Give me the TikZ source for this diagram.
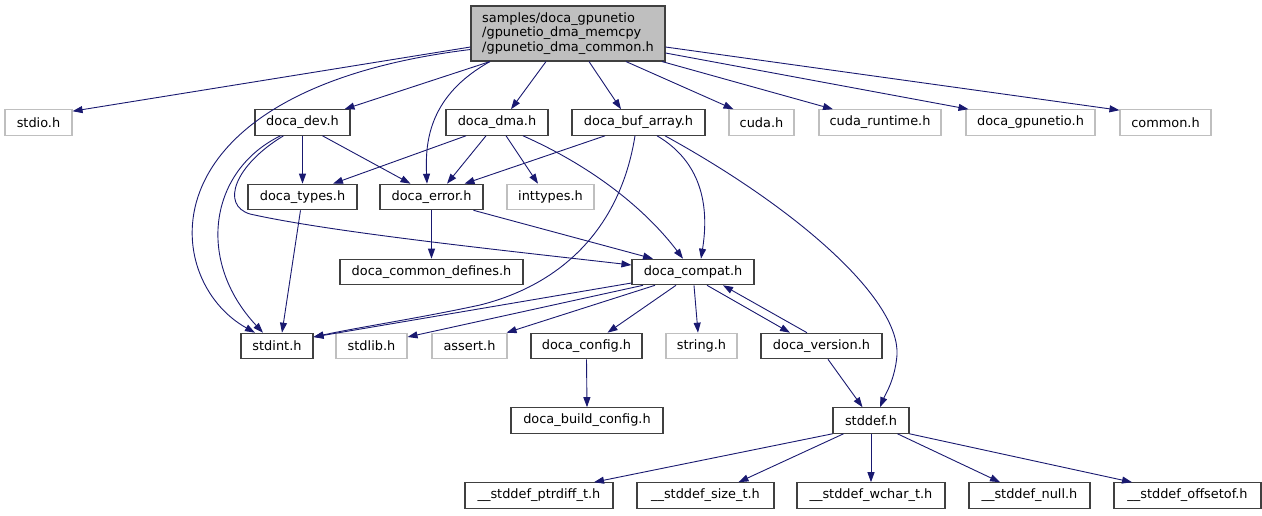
\documentclass[tikz,border=0pt]{standalone}
\usepackage{fontspec}
\setmainfont{DejaVu Sans}
\usetikzlibrary{arrows.meta}
\definecolor{edgeblue}{HTML}{191970}
\definecolor{graybox}{HTML}{BFBFBF}
\definecolor{mainfill}{HTML}{BFBFBF}
\definecolor{boxline}{HTML}{404040}
\begin{document}
\begin{tikzpicture}[x=1pt,y=-1pt,
  every node/.style={font=\fontsize{12.9}{14.6}\selectfont, inner sep=0pt, text=black},
  filebox/.style={draw=boxline, line width=1.1pt, fill=white, minimum height=25.5pt},
  extbox/.style={draw=graybox, line width=1.1pt, fill=white, minimum height=25.5pt},
  mainbox/.style={draw=boxline, line width=1.1pt, fill=mainfill, minimum height=55pt, align=left},
  edge/.style={draw=edgeblue, line width=0.9pt, -{Triangle[length=10pt,width=7pt]}}]
\useasboundingbox (0,0) rectangle (1262,515);
% nodes
\node[mainbox, minimum width=194pt] (main) at (568,33.5) {samples/doca\_gpunetio\\/gpunetio\_dma\_memcpy\\/gpunetio\_dma\_common.h};
\node[extbox, minimum width=67pt] (stdio) at (38.5,122.5) {stdio.h};
\node[filebox, minimum width=95pt] (dev) at (302.5,122.5) {doca\_dev.h};
\node[filebox, minimum width=102pt] (dma) at (497,122.5) {doca\_dma.h};
\node[filebox, minimum width=133pt] (buf) at (638.5,122.5) {doca\_buf\_array.h};
\node[extbox, minimum width=65pt] (cuda) at (761.5,122.5) {cuda.h};
\node[extbox, minimum width=122pt] (cudart) at (880,122.5) {cuda\_runtime.h};
\node[extbox, minimum width=129pt] (gpunetio) at (1030.5,122.5) {doca\_gpunetio.h};
\node[extbox, minimum width=91pt] (common) at (1165.5,122.5) {common.h};
\node[filebox, minimum width=109pt] (types) at (302.5,197) {doca\_types.h};
\node[filebox, minimum width=103pt] (error) at (431.5,197) {doca\_error.h};
\node[extbox, minimum width=87pt] (inttypes) at (550.5,197) {inttypes.h};
\node[filebox, minimum width=183pt] (commondef) at (431.5,272) {doca\_common\_defines.h};
\node[filebox, minimum width=122pt] (compat) at (693,272) {doca\_compat.h};
\node[filebox, minimum width=72pt] (stdint) at (277,346) {stdint.h};
\node[extbox, minimum width=71pt] (stdlib) at (371.5,346) {stdlib.h};
\node[extbox, minimum width=75pt] (assert) at (469.5,346) {assert.h};
\node[filebox, minimum width=111pt] (config) at (586.5,346) {doca\_config.h};
\node[extbox, minimum width=71pt] (string) at (701.5,346) {string.h};
\node[filebox, minimum width=121pt] (version) at (821.5,346) {doca\_version.h};
\node[filebox, minimum width=152pt] (buildcfg) at (587,420.5) {doca\_build\_config.h};
\node[filebox, minimum width=76pt] (stddef) at (871,420.5) {stddef.h};
\node[filebox, minimum width=148pt] (ptrdiff) at (539,495.5) {\_\_stddef\_ptrdiff\_t.h};
\node[filebox, minimum width=137pt] (size) at (705.5,495.5) {\_\_stddef\_size\_t.h};
\node[filebox, minimum width=148pt] (wchar) at (871,495.5) {\_\_stddef\_wchar\_t.h};
\node[filebox, minimum width=121pt] (null) at (1029.5,495.5) {\_\_stddef\_null.h};
\node[filebox, minimum width=147pt] (offsetof) at (1187.5,495.5) {\_\_stddef\_offsetof.h};
% edges from main
\draw[edge] ([yshift=-13.5pt]main.west) -- ([yshift=-2pt]stdio.north east);
\draw[edge] ([yshift=-16pt]main.west) .. controls (140,90) and (160,280) .. ([xshift=-22pt]stdint.north);
\draw[edge] ([xshift=-78pt]main.south) -- ([xshift=42pt]dev.north);
\draw[edge] ([xshift=-78pt]main.south) .. controls (430,95) and (425,140) .. ([xshift=-4.5pt]error.north);
\draw[edge] ([xshift=-22pt]main.south) -- ([xshift=14pt]dma.north);
\draw[edge] ([xshift=21pt]main.south) -- ([xshift=-17.5pt]buf.north);
\draw[edge] ([xshift=58pt]main.south) -- ([xshift=-28pt]cuda.north);
\draw[edge] ([xshift=94pt]main.south) -- ([xshift=-47pt]cudart.north);
\draw[edge] ([yshift=-19.5pt]main.east) -- ([xshift=-62pt]gpunetio.north);
\draw[edge] ([yshift=-13.5pt]main.east) -- ([yshift=-1pt]common.north west);
% doca_dev
\draw[edge] (dev.south) -- (types.north);
\draw[edge] ([xshift=20pt]dev.south) -- ([xshift=-21pt]error.north);
\draw[edge] ([xshift=-22pt]dev.south) .. controls (210,170) and (195,260) .. ([xshift=-14pt]stdint.north);
\draw[edge] ([xshift=-19pt]dev.south) .. controls (235,165) and (220,205) .. (250,214) .. controls (330,232) and (500,250) .. ([yshift=7pt]compat.west);
% doca_dma
\draw[edge] ([xshift=-31pt]dma.south) -- ([xshift=30.5pt]types.north);
\draw[edge] ([xshift=-11pt]dma.south) -- ([xshift=15.5pt]error.north);
\draw[edge] ([xshift=9pt]dma.south) -- ([xshift=-12.5pt]inttypes.north);
\draw[edge] ([xshift=26pt]dma.south) .. controls (600,170) and (650,215) .. ([xshift=-10pt]compat.north);
% doca_buf_array
\draw[edge] ([xshift=-33.5pt]buf.south) -- ([xshift=33pt]error.north);
\draw[edge] ([xshift=-3.5pt]buf.south) .. controls (620,230) and (560,285) .. (480,305) .. controls (420,318) and (360,327) .. ([yshift=9pt]stdint.east);
\draw[edge] ([xshift=18.5pt]buf.south) .. controls (690,155) and (712,190) .. ([xshift=8pt]compat.north);
\draw[edge] ([xshift=26.5pt]buf.south) .. controls (800,210) and (900,300) .. (897,355) .. controls (895,380) and (885,395) .. ([xshift=9pt]stddef.north);
% doca_error
\draw[edge] (error.south) -- (commondef.north);
\draw[edge] ([xshift=42pt]error.south) -- ([xshift=-40pt]compat.north);
% doca_types
\draw[edge] ([xshift=-2pt]types.south) -- ([xshift=5pt]stdint.north);
% doca_compat
\draw[edge] ([yshift=-11pt]compat.west) -- ([yshift=9pt]stdint.east);
\draw[edge] ([xshift=-50pt]compat.south) -- ([yshift=9pt]stdlib.east);
\draw[edge] ([xshift=-38pt]compat.south) -- ([xshift=-1pt]assert.north east);
\draw[edge] ([xshift=-17pt]compat.south) -- ([xshift=21pt]config.north);
\draw[edge] ([xshift=1pt]compat.south) -- ([xshift=-3.5pt]string.north);
\draw[edge] ([xshift=14pt]compat.south) -- ([xshift=-31.5pt]version.north);
\draw[edge] ([xshift=-14.5pt]version.north) -- ([xshift=30pt]compat.south);
\draw[edge] ([xshift=6.5pt]version.south) -- ([xshift=-8.5pt]stddef.north);
\draw[edge] (config.south) -- (buildcfg.north);
% stddef
\draw[edge] (stddef.south west) -- ([xshift=55pt]ptrdiff.north);
\draw[edge] ([xshift=-27.5pt]stddef.south) -- ([xshift=33pt]size.north);
\draw[edge] (stddef.south) -- (wchar.north);
\draw[edge] ([xshift=26.5pt]stddef.south) -- ([xshift=-29.5pt]null.north);
\draw[edge] (stddef.south east) -- ([xshift=-55.5pt]offsetof.north);
\end{tikzpicture}
\end{document}
